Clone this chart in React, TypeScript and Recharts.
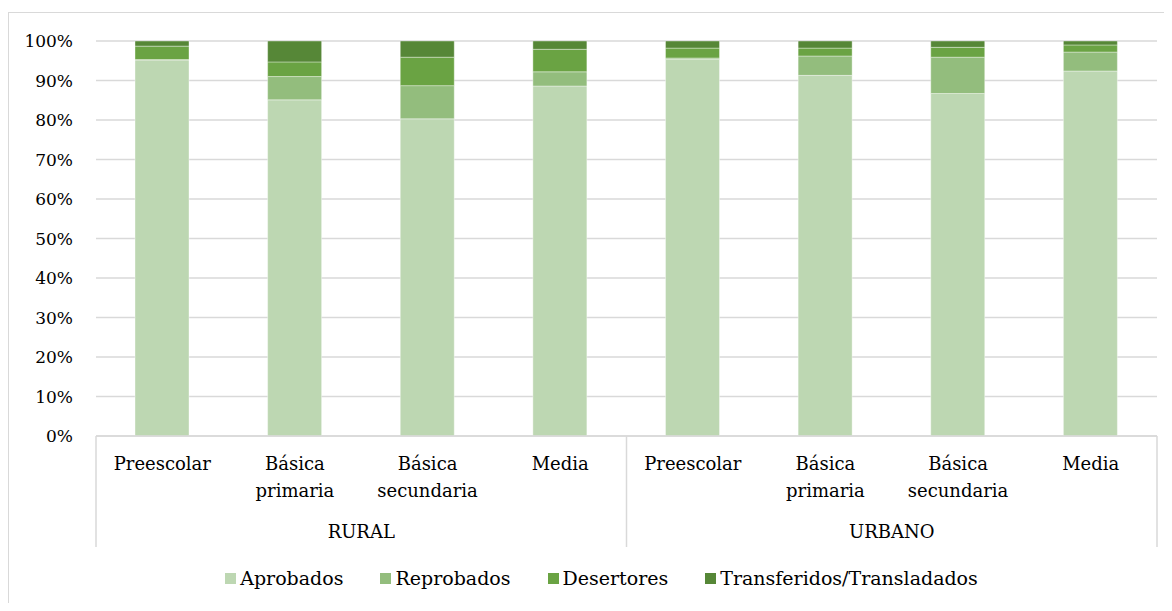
import React from "react";
import { BarChart, Bar, XAxis, YAxis, CartesianGrid, Legend } from "recharts";

const groups = ["RURAL", "URBANO"];
const levels = ["Preescolar", "Básica primaria", "Básica secundaria", "Media"];

// percentages per bar, RURAL first then URBANO
const aprobados = [95.2, 85.1, 80.3, 88.6, 95.4, 91.3, 86.7, 92.4];
const reprobados = [0.1, 5.9, 8.4, 3.6, 0.3, 4.9, 9.2, 4.8];
const desertores = [3.4, 3.7, 7.2, 5.7, 2.5, 2.0, 2.5, 1.8];
const transferidos = [1.3, 5.3, 4.1, 2.1, 1.8, 1.8, 1.6, 1.0];

const yTicks = [0, 10, 20, 30, 40, 50, 60, 70, 80, 90, 100];

const series = [
  { key: "aprobados", name: "Aprobados", color: "#BDD7B2" },
  { key: "reprobados", name: "Reprobados", color: "#93BD7D" },
  { key: "desertores", name: "Desertores", color: "#6AA343" },
  { key: "transferidos", name: "Transferidos/Transladados", color: "#568737" },
];

const data = groups.flatMap((g, gi) =>
  levels.map((lvl, li) => {
    const i = gi * levels.length + li;
    return {
      key: g + "|" + lvl,
      aprobados: aprobados[i],
      reprobados: reprobados[i],
      desertores: desertores[i],
      transferidos: transferidos[i],
    };
  })
);

const W = 1159;
const H = 590;
const M = { top: 28, right: 11, left: 0, bottom: 0 };
const Y_W = 87;
const BAND = (W - Y_W - M.right) / data.length;
const GRID = "#d9d9d9";
const FONT = "'DejaVu Serif', serif";

const CategoryTick = (props: any) => {
  const { x, y, payload } = props;
  const idx = payload.index;
  const [group, level] = String(payload.value).split("|");
  const lines = level.split(" ");
  return (
    <g>
      {lines.map((l: string, k: number) => (
        <text key={k} x={x} y={y + 34} dy={k * 27} textAnchor="middle" fill="#000" fontSize={18}>
          {l}
        </text>
      ))}
      {idx % levels.length === 0 && (
        <>
          <line x1={x - BAND / 2} x2={x - BAND / 2} y1={y} y2={y + 111} stroke={GRID} strokeWidth={1.5} />
          <text x={x + BAND * 1.5} y={y + 102} textAnchor="middle" fill="#000" fontSize={18}>
            {group}
          </text>
        </>
      )}
      {idx === data.length - 1 && (
        <line x1={x + BAND / 2} x2={x + BAND / 2} y1={y} y2={y + 111} stroke={GRID} strokeWidth={1.5} />
      )}
    </g>
  );
};

const LegendBox = () => (
  <div
    style={{
      display: "flex",
      justifyContent: "center",
      paddingLeft: 26,
      fontSize: 19,
      color: "#000",
      fontFamily: FONT,
    }}
  >
    {series.map((s, i) => (
      <div
        key={s.key}
        style={{ display: "flex", alignItems: "center", marginRight: i === series.length - 1 ? 0 : 37 }}
      >
        <span style={{ width: 11, height: 11, background: s.color, display: "inline-block", marginRight: 4 }} />
        <span>{s.name}</span>
      </div>
    ))}
  </div>
);

export default function App() {
  return (
    <div
      style={{
        marginTop: 4,
        width: 1160,
        height: 591,
        borderLeft: "1px solid " + GRID,
        borderTop: "1px solid " + GRID,
        boxSizing: "border-box",
        fontFamily: FONT,
        background: "#fff",
      }}
    >
      <BarChart width={W} height={H} data={data} margin={M}>
        <CartesianGrid vertical={false} stroke={GRID} strokeWidth={1.5} />
        <XAxis
          dataKey="key"
          interval={0}
          height={167}
          tickSize={0}
          tickMargin={0}
          tickLine={false}
          axisLine={{ stroke: GRID, strokeWidth: 1.5 }}
          tick={<CategoryTick />}
        />
        <YAxis
          width={Y_W}
          domain={[0, 100]}
          allowDataOverflow
          ticks={yTicks}
          tickFormatter={(v: number) => v + "%"}
          axisLine={false}
          tickLine={false}
          tickSize={0}
          tickMargin={23}
          tick={{ fill: "#000", fontSize: 17 }}
        />
        <Legend
          layout="horizontal"
          align="center"
          verticalAlign="middle"
          wrapperStyle={{ top: 554, left: 0, width: W }}
          content={<LegendBox />}
        />
        {series.map((s) => (
          <Bar
            key={s.key}
            dataKey={s.key}
            name={s.name}
            stackId="a"
            fill={s.color}
            stroke="#ffffff"
            strokeOpacity={0.5}
            strokeWidth={0.75}
            barSize={54}
            isAnimationActive={false}
          />
        ))}
      </BarChart>
    </div>
  );
}
